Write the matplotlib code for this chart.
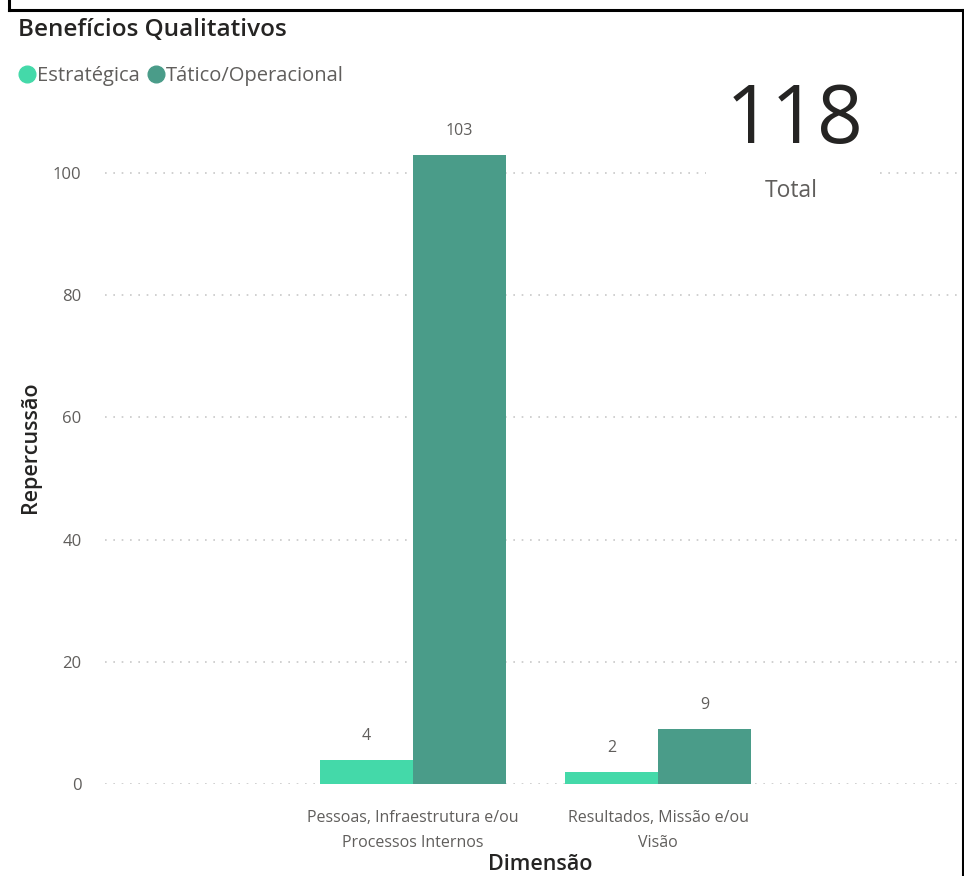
import matplotlib
matplotlib.use("Agg")
import matplotlib.pyplot as plt
import numpy as np
from matplotlib.patches import Rectangle
from matplotlib.lines import Line2D

plt.rcParams['font.family'] = ['Open Sans', 'DejaVu Sans']

# data
categories = ["Pessoas, Infraestrutura e/ou\nProcessos Internos",
              "Resultados, Missão e/ou\nVisão"]
series_names = ["Estratégica", "Tático/Operacional"]
estrategica = [4, 2]
tatico = [103, 9]
total = 118
colors = ["#44D9A9", "#4A9C89"]

W, H = 964, 876
fig = plt.figure(figsize=(W / 100, H / 100), dpi=100)

# axes placed in pixel terms
ax = fig.add_axes([105 / W, (H - 784) / H, (960 - 105) / W, 684 / H])
x = np.arange(len(categories))
bw = 93 / 245
b1 = ax.bar(x - bw / 2, estrategica, bw, color=colors[0], zorder=3)
b2 = ax.bar(x + bw / 2, tatico, bw, color=colors[1], zorder=3)

for bars in (b1, b2):
    for r in bars:
        ax.annotate(f"{r.get_height():g}", (r.get_x() + r.get_width() / 2, r.get_height()),
                    xytext=(0, 17), textcoords="offset points", ha="center", va="center",
                    fontsize=11.5, color="#605E5C")

ax.set_xlim((105 - 413) / 245, (960 - 413) / 245)
ax.set_ylim(0, 684 / 6.11)
ax.set_yticks([0, 20, 40, 60, 80, 100])
ax.set_xticks(x)
ax.set_xticklabels(categories, fontsize=11.5, color="#605E5C", linespacing=1.75)
ax.tick_params(axis="y", labelsize=12, labelcolor="#605E5C", length=0, pad=17)
ax.tick_params(axis="x", length=0, pad=19)
ax.grid(axis="y", color="#C8C8C8", linestyle=(0, (1, 4)), linewidth=1.2, zorder=0)
for s in ax.spines.values():
    s.set_visible(False)

ax.set_ylabel("Repercussão", fontsize=15.5, color="#252423", fontweight="semibold")
ax.yaxis.set_label_coords((41 - 105) / (960 - 105), (784 - 447) / 684)
ax.set_xlabel("Dimensão", fontsize=15.5, color="#252423", fontweight="semibold")
ax.xaxis.set_label_coords((540 - 105) / (960 - 105), -(854 - 784) / 684)

# title and legend
fig.text(18 / W, 1 - 30 / H, "Benefícios Qualitativos", fontsize=17.5, color="#252423",
         ha="left", va="center", fontweight="semibold")
handles = [Line2D([], [], marker="o", linestyle="", markersize=12, color=c) for c in colors]
fig.legend(handles, series_names, loc="center left", bbox_to_anchor=(9 / W, 1 - 76 / H),
           ncol=2, frameon=False, fontsize=14.5, handletextpad=0.0, columnspacing=0.3,
           labelcolor="#605E5C", handlelength=1.0, borderaxespad=0)

# card with total
fig.patches.append(Rectangle((706 / W, 1 - 215 / H), 170 / W, 140 / H,
                             transform=fig.transFigure, facecolor="white",
                             edgecolor="none", zorder=2))
fig.text(795 / W, 1 - 122 / H, str(total), fontsize=58, color="#252423",
         ha="center", va="center", zorder=3)
fig.text(791 / W, 1 - 191 / H, "Total", fontsize=16.5, color="#605E5C",
         ha="center", va="center", zorder=3)

# outer border
for xs, ys in [((9, 9), (0, 10)), ((9, 963), (10, 10)), ((963, 963), (10, 876))]:
    fig.add_artist(Line2D([v / W for v in xs], [1 - v / H for v in ys],
                          transform=fig.transFigure, color="black", linewidth=2.2))

fig.savefig("out.png", dpi=100, facecolor="white")
